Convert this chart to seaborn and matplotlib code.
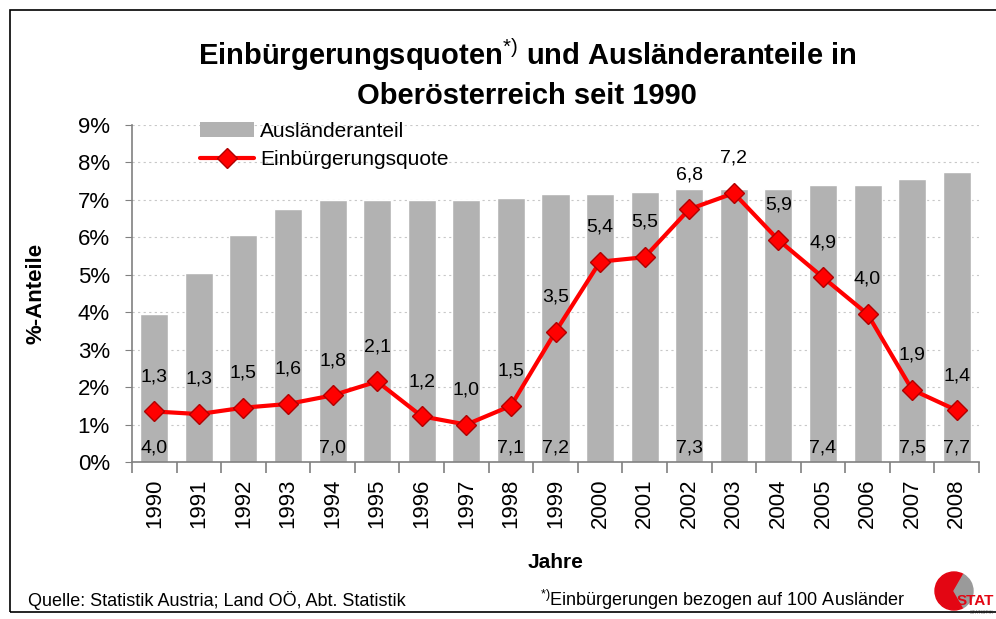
import numpy as np
import pandas as pd
import matplotlib
matplotlib.use("Agg")
import matplotlib.pyplot as plt
import seaborn as sns
from matplotlib.patches import Rectangle, Wedge, Patch
from matplotlib.lines import Line2D

# === DATA ===
years = [str(y) for y in range(1990, 2009)]
auslaenderanteil = [3.95, 5.05, 6.05, 6.75, 7.0, 7.0, 7.0, 7.0, 7.05, 7.15,
                    7.15, 7.2, 7.3, 7.3, 7.3, 7.4, 7.4, 7.55, 7.75]
bar_labels = ["4,0", "", "", "", "7,0", "", "", "", "7,1", "7,2",
              "", "", "7,3", "", "", "7,4", "", "7,5", "7,7"]
einbuergerung = [1.35, 1.28, 1.45, 1.55, 1.78, 2.15, 1.22, 1.0, 1.5, 3.48,
                 5.35, 5.47, 6.75, 7.18, 5.93, 4.93, 3.95, 1.93, 1.38]
line_labels = ["1,3", "1,3", "1,5", "1,6", "1,8", "2,1", "1,2", "1,0", "1,5", "3,5",
               "5,4", "5,5", "6,8", "7,2", "5,9", "4,9", "4,0", "1,9", "1,4"]
y_ticks = list(range(0, 10))

df = pd.DataFrame({"Jahr": years, "Anteil": auslaenderanteil, "Quote": einbuergerung})

# === STYLE ===
sns.set_style("white")
plt.rcParams["font.family"] = ["Liberation Sans", "DejaVu Sans"]
plt.rcParams["mathtext.fontset"] = "custom"
plt.rcParams["mathtext.rm"] = "Liberation Sans"
plt.rcParams["mathtext.it"] = "Liberation Sans"
plt.rcParams["text.color"] = "black"
plt.rcParams["axes.labelcolor"] = "black"
plt.rcParams["xtick.color"] = "black"
plt.rcParams["ytick.color"] = "black"

BAR_GRAY = "#b2b2b2"
RED = "#ff0000"
AXIS_GRAY = "#808080"

fig = plt.figure(figsize=(9.96, 6.19), dpi=100)
ax = fig.add_axes([132 / 996, 1 - 462 / 619, 847 / 996, 337 / 619])

# bars
sns.barplot(data=df, x="Jahr", y="Anteil", color=BAR_GRAY, saturation=1,
            width=0.63, ax=ax, zorder=2)
# line
sns.pointplot(data=df, x="Jahr", y="Quote", color=RED, markers="D",
              linewidth=3, markersize=10, markeredgecolor="#b00000",
              markeredgewidth=1, ax=ax, zorder=4)

# data labels
for i, lab in enumerate(bar_labels):
    if lab:
        ax.text(i, 0.38, lab, ha="center", va="center", fontsize=14, zorder=5)
for i, (v, lab) in enumerate(zip(einbuergerung, line_labels)):
    ax.annotate(lab, (i, v), xytext=(0, 25), textcoords="offset points",
                ha="center", va="center", fontsize=14, zorder=5)

# axes
ax.set_xlim(-0.5, len(years) - 0.5)
ax.set_ylim(0, 9)
ax.set_yticks(y_ticks)
ax.set_yticklabels([f"{t}%" for t in y_ticks], fontsize=16)
ax.yaxis.grid(True, linestyle=(0, (2, 3)), color="#c8c8c8", linewidth=0.8, zorder=0)
ax.set_axisbelow(True)
for s in ["top", "right"]:
    ax.spines[s].set_visible(False)
ax.spines["left"].set_color(AXIS_GRAY)
ax.spines["bottom"].set_color(AXIS_GRAY)
ax.spines["left"].set_linewidth(1.2)
ax.spines["bottom"].set_linewidth(1.2)
ax.tick_params(axis="y", length=5, color=AXIS_GRAY, pad=11, left=True)

ax.set_xticks(range(len(years)))
ax.set_xticklabels(years, rotation=90, fontsize=16)
ax.set_xticks(np.arange(-0.5, len(years), 1), minor=True)
ax.tick_params(axis="x", which="major", length=0, pad=12)
ax.tick_params(axis="x", which="minor", length=8, color=AXIS_GRAY, width=1.2, bottom=True)

ax.set_xlabel("Jahre", fontsize=15, fontweight="bold", labelpad=18)
ax.set_ylabel("%-Anteile", fontsize=16, fontweight="bold", labelpad=22)

# legend
handles = [Patch(facecolor=BAR_GRAY, edgecolor="none"),
           Line2D([], [], color=RED, linewidth=3, marker="D", markersize=10,
                  markeredgecolor="#b00000")]
ax.legend(handles, ["Ausländeranteil", "Einbürgerungsquote"], loc="upper left",
          bbox_to_anchor=(0.07, 1.035), frameon=False, fontsize=15,
          handlelength=2.6, handletextpad=0.3, labelspacing=0.45, borderaxespad=0)

# titles
fig.text(527 / 996, 1 - 55 / 619, r"Einbürgerungsquoten$^{*)}$ und Ausländeranteile in",
         ha="center", va="center", fontsize=21, fontweight="bold")
fig.text(527 / 996, 1 - 96 / 619, "Oberösterreich seit 1990",
         ha="center", va="center", fontsize=21, fontweight="bold")

# footnotes
fig.text(28 / 996, 1 - 600 / 619, "Quelle: Statistik Austria; Land OÖ, Abt. Statistik",
         ha="left", va="center", fontsize=13)
fig.text(540 / 996, 1 - 600 / 619, r"$^{*)}$Einbürgerungen bezogen auf 100 Ausländer",
         ha="left", va="center", fontsize=13)

# frame
fig.patches.append(Rectangle((10 / 996, 1 - 612 / 619), 1.2, 602 / 619,
                             transform=fig.transFigure, fill=False,
                             edgecolor="black", linewidth=1.2))

# logo (approximation)
logo = fig.add_axes([928 / 996, 1 - 617 / 619, 68 / 996, 46 / 619])
logo.set_xlim(0, 68)
logo.set_ylim(0, 46)
logo.axis("off")
logo.add_patch(Wedge((26, 26), 19, 60, 300, color="#e30613"))
logo.add_patch(Wedge((26, 26), 19, 300, 420, color="#9a9a9a"))
logo.text(66, 16, "STAT", color="#e30613", fontsize=11, fontweight="bold",
          va="center", ha="right")
logo.text(66, 5, "STATISTIK", color="#888888", fontsize=3.5, va="center", ha="right")

fig.savefig("out.png", dpi=100)
